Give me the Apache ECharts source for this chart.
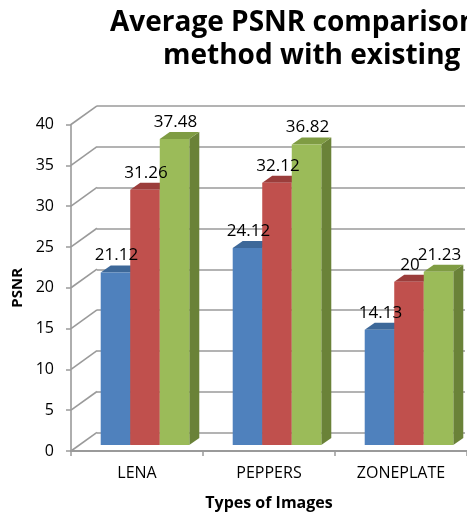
<!DOCTYPE html>
<html>
<head>
<meta charset="utf-8">
<script src="https://cdn.jsdelivr.net/npm/echarts@6/dist/echarts.min.js"></script>
<style>
  html, body { margin: 0; padding: 0; background: #fff; }
  #chart { width: 467px; height: 516px; }
</style>
</head>
<body>
<div id="chart"></div>
<script>
// Average PSNR per test image for three methods
const categories = ['LENA', 'PEPPERS', 'ZONEPLATE'];
const seriesNames = ['Series1', 'Series2', 'Series3'];
const series1 = [21.12, 24.12, 14.13];
const series2 = [31.26, 32.12, 20];
const series3 = [37.48, 36.82, 21.23];
const yMin = 0;
const yMax = 40;
const yStep = 5;

const FONT = '"Open Sans", "Noto Sans", sans-serif';
const GRID_LINE = '#9a9a9a';

// pseudo-3D geometry: wall depth, bar inset and bar depth (pixels)
const WALL_DX = 26, WALL_DY = -18.7;
const BAR_DX = 8, BAR_DY = -6;
const BAR_DEPTH_X = 10, BAR_DEPTH_Y = -7;
const GROUP_RATIO = 0.671;

const palette = [
  { front: '#4f81bd', top: '#3d6899', side: '#34598a' },
  { front: '#c0504d', top: '#9b3d3b', side: '#8c3533' },
  { front: '#9bbb59', top: '#7f9c43', side: '#6a8238' }
];

const allSeries = [series1, series2, series3];

const tickValues = [];
for (let v = yMin; v <= yMax; v += yStep) tickValues.push(v);

function barGeometry(api, slot) {
  const ci = api.value(0);
  const v = api.value(1);
  const base = api.coord([ci, 0]);
  const top = api.coord([ci, v]);
  const band = api.size([1, 0])[0];
  const w = band * GROUP_RATIO / 3;
  const x0 = base[0] - 1.5 * w + slot * w + BAR_DX;
  return { x0: x0, w: w, yb: base[1] + BAR_DY, yt: top[1] + BAR_DY, v: v };
}

function makeBarRenderer(slot) {
  const c = palette[slot];
  return function (params, api) {
    const g = barGeometry(api, slot);
    const x0 = g.x0, w = g.w, yb = g.yb, yt = g.yt;
    return {
      type: 'group',
      children: [
        {
          type: 'polygon',
          shape: { points: [[x0 + w, yt], [x0 + w + BAR_DEPTH_X, yt + BAR_DEPTH_Y], [x0 + w + BAR_DEPTH_X, yb + BAR_DEPTH_Y], [x0 + w, yb]] },
          style: { fill: c.side }
        },
        {
          type: 'polygon',
          shape: { points: [[x0, yt], [x0 + w, yt], [x0 + w + BAR_DEPTH_X, yt + BAR_DEPTH_Y], [x0 + BAR_DEPTH_X, yt + BAR_DEPTH_Y]] },
          style: { fill: c.top }
        },
        {
          type: 'rect',
          shape: { x: x0, y: yt, width: w, height: yb - yt },
          style: { fill: c.front }
        }
      ]
    };
  };
}

function makeLabelRenderer(slot) {
  return function (params, api) {
    const g = barGeometry(api, slot);
    return {
      type: 'text',
      x: g.x0 + g.w / 2 + 1,
      y: g.yt - 17,
      style: {
        text: String(g.v),
        fill: '#000',
        font: '17px ' + FONT,
        align: 'center',
        verticalAlign: 'middle'
      }
    };
  };
}

function toData(vals) {
  return vals.map(function (v, i) { return [i, v]; });
}

const barSeries = allSeries.map(function (vals, i) {
  return {
    name: seriesNames[i],
    type: 'custom',
    xAxisIndex: 0,
    yAxisIndex: 0,
    z: 3,
    renderItem: makeBarRenderer(i),
    encode: { x: 0, y: 1 },
    data: toData(vals)
  };
});

const labelSeries = allSeries.map(function (vals, i) {
  return {
    type: 'custom',
    xAxisIndex: 0,
    yAxisIndex: 0,
    z: 10,
    silent: true,
    renderItem: makeLabelRenderer(i),
    encode: { x: 0, y: 1 },
    data: toData(vals)
  };
});

// diagonal wall edges joining each front tick to the back wall
const depthSeries = {
  type: 'custom',
  xAxisIndex: 1,
  yAxisIndex: 0,
  z: 1,
  silent: true,
  renderItem: function (params, api) {
    const p = api.coord([0, api.value(1)]);
    return {
      type: 'line',
      shape: { x1: p[0], y1: p[1], x2: p[0] + WALL_DX, y2: p[1] + WALL_DY },
      style: { stroke: GRID_LINE, lineWidth: 1.6 }
    };
  },
  encode: { x: 0, y: 1 },
  data: tickValues.map(function (v) { return [0, v]; })
};

const FRONT = { left: 71, top: 124.5, width: 398, height: 327 };

const option = {
  animation: false,
  backgroundColor: '#fff',
  graphic: [
    {
      type: 'text', left: 110, top: 9,
      style: { text: 'Average PSNR comparison', font: 'bold 28px ' + FONT, fill: '#000' }
    },
    {
      type: 'text', left: 163, top: 42,
      style: { text: 'method with existing', font: 'bold 28px ' + FONT, fill: '#000' }
    }
  ],
  grid: [
    FRONT,
    { left: FRONT.left + WALL_DX, top: FRONT.top + WALL_DY, width: 368, height: FRONT.height }
  ],
  xAxis: [
    {
      type: 'category',
      gridIndex: 0,
      data: categories,
      name: 'Types of Images',
      nameLocation: 'middle',
      nameGap: 44,
      nameTextStyle: { fontFamily: FONT, fontWeight: 'bold', fontSize: 16, color: '#000' },
      axisLine: { lineStyle: { color: GRID_LINE, width: 2 } },
      axisTick: { show: true, length: 5, lineStyle: { color: GRID_LINE, width: 1.5 } },
      axisLabel: { fontFamily: FONT, fontSize: 16, color: '#000', margin: 14 },
      splitLine: { show: false }
    },
    {
      type: 'value',
      gridIndex: 0,
      min: 0,
      max: 1,
      show: false
    },
    {
      type: 'category',
      gridIndex: 1,
      data: categories,
      show: false
    }
  ],
  yAxis: [
    {
      type: 'value',
      gridIndex: 0,
      min: yMin,
      max: yMax,
      interval: yStep,
      name: 'PSNR',
      nameLocation: 'middle',
      nameGap: 46,
      nameTextStyle: { fontFamily: FONT, fontWeight: 'bold', fontSize: 15, color: '#000' },
      axisLine: { show: true, lineStyle: { color: GRID_LINE, width: 1.6 } },
      axisTick: { show: true, length: 5, lineStyle: { color: GRID_LINE, width: 1.5 } },
      axisLabel: { fontFamily: FONT, fontSize: 16, color: '#000', margin: 17 },
      splitLine: { show: false }
    },
    {
      type: 'value',
      gridIndex: 1,
      min: yMin,
      max: yMax,
      interval: yStep,
      axisLine: { show: false },
      axisTick: { show: false },
      axisLabel: { show: false },
      splitLine: { show: true, lineStyle: { color: GRID_LINE, width: 1.6 } }
    }
  ],
  series: [depthSeries].concat(barSeries, labelSeries)
};

const chart = echarts.init(document.getElementById('chart'), null, { renderer: 'canvas' });
chart.setOption(option);
</script>
</body>
</html>
